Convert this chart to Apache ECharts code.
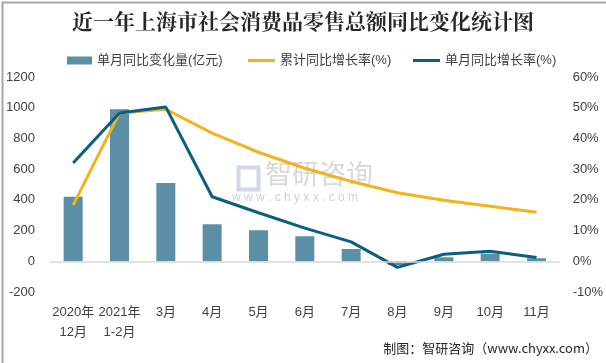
<!DOCTYPE html>
<html>
<head>
<meta charset="utf-8">
<script src="https://cdn.jsdelivr.net/npm/echarts@6/dist/echarts.min.js"></script>
<style>
html,body{margin:0;padding:0;background:#fff;}
#c{width:606px;height:363px;box-sizing:border-box;}
</style>
</head>
<body>
<div id="c"></div>
<script>
var categories = ['2020年\n12月','2021年\n1-2月','3月','4月','5月','6月','7月','8月','9月','10月','11月'];
var monthlyChange = [420, 990, 510, 241, 202, 163, 80, -25, 26, 50, 20];
var cumulativeGrowth = [18.3, 48.3, 49.5, 41.7, 35.5, 30.3, 26.0, 22.3, 19.9, 17.9, 16.0];
var monthlyGrowth = [32.0, 48.3, 50.2, 21.0, 15.8, 10.8, 6.3, -2.0, 2.3, 3.3, 1.2];
var leftTicks = {min:-200, max:1200, interval:200};
var rightTicks = {min:-10, max:60, interval:10};

var chart = echarts.init(document.getElementById('c'));
var txt = '#404040';
var font = '"Liberation Sans","Noto Sans CJK SC",sans-serif';
var legendText = {fontSize:13, color:txt, fontFamily:font};
chart.setOption({
  animation:false,
  backgroundColor:'#fff',
  title:{
    text:'近一年上海市社会消费品零售总额同比变化统计图',
    left:'center', top:6,
    textStyle:{fontSize:21, fontWeight:'bold', color:'#262626', fontFamily:'"Noto Serif CJK SC","Noto Sans CJK SC",serif'}
  },
  legend:[
    {top:49, left:62, itemWidth:25, itemHeight:8, textStyle:legendText,
     data:[{name:'单月同比变化量(亿元)', icon:'rect'}]},
    {top:49, left:243, itemWidth:27, itemHeight:3, textStyle:legendText,
     data:[{name:'累计同比增长率(%)', icon:'rect'}]},
    {top:49, left:408, itemWidth:27, itemHeight:3, textStyle:legendText,
     data:[{name:'单月同比增长率(%)', icon:'rect'}]}
  ],
  grid:{left:50, right:46, top:77, bottom:71},
  xAxis:{
    type:'category', data:categories,
    axisLine:{show:false}, axisTick:{show:false},
    axisLabel:{color:txt, fontSize:13, fontFamily:font, margin:10, lineHeight:20, interval:0}
  },
  yAxis:[
    {type:'value', min:leftTicks.min, max:leftTicks.max, interval:leftTicks.interval,
     splitLine:{show:false}, axisLine:{show:false}, axisTick:{show:false},
     axisLabel:{color:txt, fontSize:13, fontFamily:font, margin:15, formatter:function(v){return String(v);}}},
    {type:'value', min:rightTicks.min, max:rightTicks.max, interval:rightTicks.interval,
     splitLine:{show:false}, axisLine:{show:false}, axisTick:{show:false},
     axisLabel:{color:txt, fontSize:13, fontFamily:font, formatter:'{value}%', margin:13}}
  ],
  series:[
    {name:'单月同比变化量(亿元)', type:'bar', data:monthlyChange, barWidth:19,
     itemStyle:{color:'#5B8FA6'},
     markLine:{silent:true, symbol:'none', label:{show:false},
       lineStyle:{color:'#d9d9d9', type:'solid', width:1.5}, data:[{yAxis:0}]}},
    {name:'累计同比增长率(%)', type:'line', yAxisIndex:1, data:cumulativeGrowth,
     symbol:'none', lineStyle:{width:3, color:'#F2B31B'}, itemStyle:{color:'#F2B31B'}},
    {name:'单月同比增长率(%)', type:'line', yAxisIndex:1, data:monthlyGrowth,
     symbol:'none', lineStyle:{width:3, color:'#0A5E80'}, itemStyle:{color:'#0A5E80'}}
  ],
  graphic:[
    {type:'rect', left:0, top:0, shape:{width:605, height:362}, silent:true,
     style:{fill:'none', stroke:'#a6a6a6', lineWidth:2}, z:100},
    {type:'text', left:265, top:160, silent:true, z:-1,
     style:{text:'智研咨询', fontSize:27, fill:'#d8d8d8', fontFamily:'"Noto Sans CJK SC",sans-serif'}},
    {type:'text', left:232, top:192, silent:true, z:-1,
     style:{text:'w w w . c h y x x . c o m', fontSize:12, fill:'#cfcfcf', fontFamily:font}},
    {type:'rect', left:236, top:165, shape:{width:20, height:22}, silent:true, z:-1,
     style:{fill:'none', stroke:'#cdd8e8', lineWidth:4}},
    {type:'text', right:8, top:342, silent:true,
     style:{text:'制图：智研咨询（www.chyxx.com）', fontSize:13, fill:'#262626', fontFamily:'"Noto Sans CJK SC",sans-serif'}}
  ]
});
</script>
</body>
</html>
